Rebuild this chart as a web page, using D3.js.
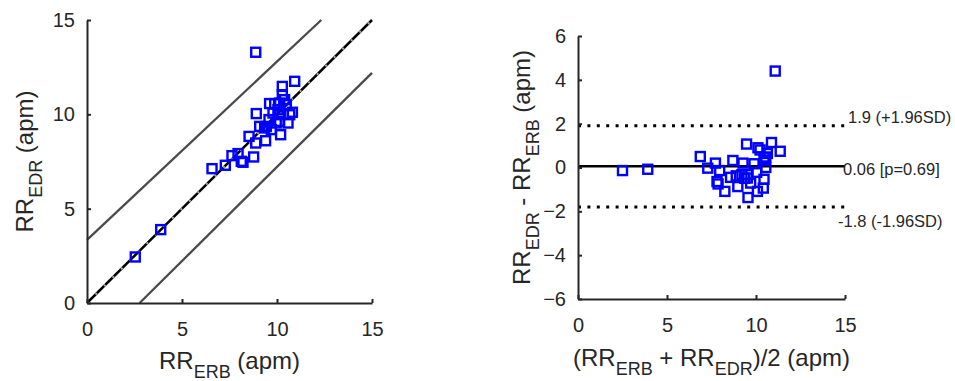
<!DOCTYPE html>
<html>
<head>
<meta charset="utf-8">
<script src="https://cdn.jsdelivr.net/npm/d3@7"></script>
<style>
  html, body { margin: 0; padding: 0; background: #fff; }
  svg { display: block; font-family: "Liberation Sans", Arial, Helvetica, sans-serif; }
</style>
</head>
<body>
<div id="container"></div>
<script>
// --- Data: left panel (correlation) ---
const erb = [2.54, 3.88, 6.58, 7.28, 7.63, 7.95, 8.12, 8.21, 8.77, 8.53, 8.88, 9.40, 8.91, 8.88,
  9.09, 9.35, 9.58, 9.79, 9.61, 9.88, 10.14, 10.28, 10.28, 10.40, 10.14, 10.14, 10.19, 10.58,
  10.49, 10.81, 10.67, 10.93, 9.96, 9.70, 9.44, 10.05];
const edr = [2.44, 3.89, 7.12, 7.30, 7.81, 7.92, 7.51, 7.46, 7.74, 8.83, 8.48, 8.60, 10.04, 13.29,
  9.36, 9.28, 9.72, 10.07, 10.57, 10.57, 10.60, 11.04, 11.48, 10.78, 9.98, 9.63, 8.92, 9.54,
  10.51, 10.11, 9.98, 11.75, 9.54, 9.19, 9.36, 10.25];
const identityLine = [[0, 0], [15, 15]];
const upperBoundLine = [[0, 3.35], [12.33, 15]];
const lowerBoundLine = [[2.77, 0], [15, 12.2]];

// --- Data: right panel (Bland-Altman) ---
const baMean = [2.50, 3.92, 6.87, 7.29, 7.72, 7.96, 7.81, 7.87, 8.25, 8.70, 8.57, 8.89, 8.98,
  9.27, 9.21, 9.47, 9.55, 9.55, 9.70, 9.89, 10.04, 10.08, 10.11, 10.23, 10.41, 10.45, 10.55,
  10.49, 10.64, 10.55, 10.87, 11.36, 11.08, 10.45, 9.36, 9.51];
const baDiff = [-0.14, -0.08, 0.50, -0.03, 0.20, -0.14, -0.64, -0.75, -1.09, 0.32, -0.45, -0.38,
  -0.87, 0.20, -0.33, 1.07, -1.37, -0.33, -0.71, 0.17, -0.22, -1.09, 0.90, 0.80, -0.94, -0.54,
  0.00, 0.33, 0.64, 0.48, 1.14, 0.74, 4.40, 0.45, -0.49, -0.48];
const biasValue = 0.06;
const upperLoa = 1.9;
const lowerLoa = -1.8;
const annotations = ["1.9 (+1.96SD)", "0.06 [p=0.69]", "-1.8 (-1.96SD)"];

const xTicks = [0, 5, 10, 15];
const yTicksLeft = [0, 5, 10, 15];
const yTicksRight = [-6, -4, -2, 0, 2, 4, 6];

const width = 955, height = 381;
const axisColor = "#262626";
const blue = "#0000ff";

const svg = d3.select("#container").append("svg")
  .attr("width", width).attr("height", height);

// --- Scales ---
const xL = d3.scaleLinear().domain([0, 15]).range([87, 372]);
const yL = d3.scaleLinear().domain([0, 15]).range([303, 20]);
const xR = d3.scaleLinear().domain([0, 15]).range([578, 845]);
const yR = d3.scaleLinear().domain([-6, 6]).range([299, 36]);

const line = (xs, ys) => d3.line().x((d) => xs(d[0])).y((d) => ys(d[1]));

// MATLAB-like axes: inward ticks, no box
function drawAxes(xs, ys, yTicks) {
  const [x0] = xs.range();
  const [y0] = ys.range();
  const xa = svg.append("g")
    .attr("transform", `translate(0,${y0})`)
    .call(d3.axisBottom(xs).tickValues(xTicks).tickSizeInner(-4).tickSizeOuter(0).tickPadding(14));
  const ya = svg.append("g")
    .attr("transform", `translate(${x0},0)`)
    .call(d3.axisLeft(ys).tickValues(yTicks).tickSizeInner(-4).tickSizeOuter(0).tickPadding(12));
  for (const ax of [xa, ya]) {
    ax.select(".domain").attr("stroke", axisColor).attr("stroke-width", 2);
    ax.selectAll(".tick line").attr("stroke", axisColor).attr("stroke-width", 2);
    ax.selectAll(".tick text")
      .attr("fill", axisColor)
      .style("font-size", "20px")
      .style("font-family", "'Liberation Sans', Arial, sans-serif");
  }
  xa.selectAll(".tick text").attr("dy", "0.95em");
}

// Label with subscripts: parts = [[text, isSub], ...]
function subLabel(g, parts) {
  const txt = g.append("text")
    .attr("text-anchor", "middle")
    .attr("fill", axisColor)
    .style("font-size", "24px");
  let down = false;
  for (const [s, sub] of parts) {
    const ts = txt.append("tspan").text(s);
    if (sub && !down) { ts.attr("dy", 9).style("font-size", "18px"); down = true; }
    else if (!sub && down) { ts.attr("dy", -9); down = false; }
    else if (sub) ts.style("font-size", "18px");
  }
  return txt;
}

// ===== Left panel =====
svg.append("path").datum(upperBoundLine)
  .attr("d", line(xL, yL)).attr("stroke", "#4a4a4a").attr("stroke-width", 2.3).attr("fill", "none");
svg.append("path").datum(lowerBoundLine)
  .attr("d", line(xL, yL)).attr("stroke", "#4a4a4a").attr("stroke-width", 2.3).attr("fill", "none");
svg.append("path").datum(identityLine)
  .attr("d", line(xL, yL)).attr("stroke", "#000").attr("stroke-width", 2.5).attr("fill", "none");
svg.append("path").datum(identityLine)
  .attr("d", line(xL, yL)).attr("stroke", "#aaa").attr("stroke-width", 2)
  .attr("stroke-dasharray", "2,10").attr("fill", "none");

svg.append("g").selectAll("rect").data(erb.map((v, i) => [v, edr[i]])).join("rect")
  .attr("x", (d) => xL(d[0]) - 4.5).attr("y", (d) => yL(d[1]) - 4.5)
  .attr("width", 9).attr("height", 9)
  .attr("fill", "none").attr("stroke", blue).attr("stroke-width", 2.4);

drawAxes(xL, yL, yTicksLeft);

subLabel(svg.append("g").attr("transform", `translate(${(87 + 372) / 2},369)`),
  [["RR", false], ["ERB", true], [" (apm)", false]]);
subLabel(svg.append("g").attr("transform", `translate(33,${(20 + 303) / 2}) rotate(-90)`),
  [["RR", false], ["EDR", true], [" (apm)", false]]);

// ===== Right panel =====
for (const v of [upperLoa, lowerLoa]) {
  svg.append("path").datum([[0, v], [15, v]])
    .attr("d", line(xR, yR)).attr("stroke", "#000").attr("stroke-width", 3)
    .attr("stroke-dasharray", "3,6.4").attr("fill", "none");
}
svg.append("path").datum([[0, biasValue], [15, biasValue]])
  .attr("d", line(xR, yR)).attr("stroke", "#000").attr("stroke-width", 2.5).attr("fill", "none");

svg.append("g").selectAll("rect").data(baMean.map((v, i) => [v, baDiff[i]])).join("rect")
  .attr("x", (d) => xR(d[0]) - 4.5).attr("y", (d) => yR(d[1]) - 4.5)
  .attr("width", 9).attr("height", 9)
  .attr("fill", "none").attr("stroke", blue).attr("stroke-width", 2.4);

drawAxes(xR, yR, yTicksRight);

// Limit annotations
const annPos = [
  { v: upperLoa, dx: 3, dy: -3 },
  { v: biasValue, dx: -2, dy: 9 },
  { v: lowerLoa, dx: -7, dy: 20 },
];
annPos.forEach((p, i) => {
  svg.append("text")
    .attr("x", xR(15) + p.dx).attr("y", yR(p.v) + p.dy)
    .attr("fill", axisColor)
    .style("font-size", "16.5px")
    .text(annotations[i]);
});

subLabel(svg.append("g").attr("transform", `translate(${(578 + 845) / 2},366)`),
  [["(RR", false], ["ERB", true], [" + RR", false], ["EDR", true], [")/2 (apm)", false]]);
subLabel(svg.append("g").attr("transform", `translate(530,${(36 + 299) / 2}) rotate(-90)`),
  [["RR", false], ["EDR", true], [" - RR", false], ["ERB", true], [" (apm)", false]]);
</script>
</body>
</html>
